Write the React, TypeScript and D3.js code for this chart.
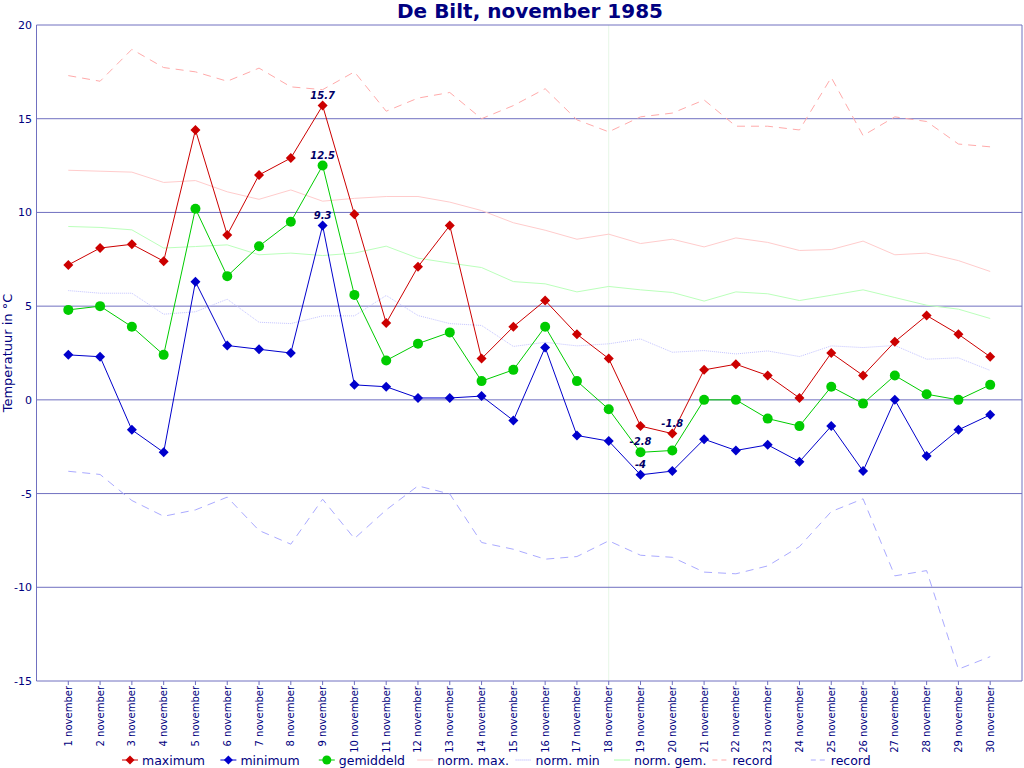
import React from "react";
import * as d3 from "d3";

const days = Array.from({ length: 30 }, (_, i) => `${i + 1} november`);
const maximum = [7.2, 8.1, 8.3, 7.4, 14.4, 8.8, 12.0, 12.9, 15.7, 9.9, 4.1, 7.1, 9.3, 2.2, 3.9, 5.3, 3.5, 2.2, -1.4, -1.8, 1.6, 1.9, 1.3, 0.1, 2.5, 1.3, 3.1, 4.5, 3.5, 2.3];
const minimum = [2.4, 2.3, -1.6, -2.8, 6.3, 2.9, 2.7, 2.5, 9.3, 0.8, 0.7, 0.1, 0.1, 0.2, -1.1, 2.8, -1.9, -2.2, -4.0, -3.8, -2.1, -2.7, -2.4, -3.3, -1.4, -3.8, 0.0, -3.0, -1.6, -0.8];
const gemiddeld = [4.8, 5.0, 3.9, 2.4, 10.2, 6.6, 8.2, 9.5, 12.5, 5.6, 2.1, 3.0, 3.6, 1.0, 1.6, 3.9, 1.0, -0.5, -2.8, -2.7, 0.0, 0.0, -1.0, -1.4, 0.7, -0.2, 1.3, 0.3, 0.0, 0.8];
const normMax = [12.25, 12.2, 12.15, 11.6, 11.7, 11.1, 10.7, 11.2, 10.6, 10.75, 10.85, 10.85, 10.55, 10.1, 9.45, 9.05, 8.57, 8.84, 8.34, 8.57, 8.16, 8.64, 8.4, 7.97, 8.02, 8.47, 7.74, 7.83, 7.43, 6.85];
const normMin = [5.83, 5.69, 5.69, 4.57, 4.7, 5.37, 4.14, 4.07, 4.48, 4.48, 5.57, 4.5, 4.07, 3.97, 2.85, 3.07, 2.88, 2.99, 3.25, 2.54, 2.63, 2.45, 2.61, 2.31, 2.88, 2.79, 2.9, 2.17, 2.24, 1.57];
const normGem = [9.25, 9.2, 9.07, 8.1, 8.18, 8.27, 7.74, 7.83, 7.7, 7.83, 8.2, 7.56, 7.3, 7.06, 6.31, 6.19, 5.76, 6.05, 5.87, 5.73, 5.27, 5.76, 5.66, 5.3, 5.58, 5.87, 5.46, 5.05, 4.84, 4.34];
const recordMax = [17.3, 17.0, 18.7, 17.73, 17.5, 17.0, 17.7, 16.7, 16.55, 17.5, 15.4, 16.1, 16.4, 15.0, 15.7, 16.6, 14.94, 14.3, 15.1, 15.3, 16.0, 14.6, 14.6, 14.4, 17.2, 14.1, 15.1, 14.85, 13.65, 13.5];
const recordMin = [-3.81, -3.98, -5.37, -6.21, -5.87, -5.19, -6.97, -7.7, -5.3, -7.4, -5.87, -4.59, -5.02, -7.61, -7.97, -8.5, -8.36, -7.52, -8.29, -8.4, -9.19, -9.28, -8.86, -7.83, -5.96, -5.28, -9.39, -9.11, -14.37, -13.7];
const yTicks = [-15, -10, -5, 0, 5, 10, 15, 20];
const todayMarker = "18 november";

// extreme value annotations: [series, dayIndex]
const annotations: { series: string; day: number }[] = [
  { series: "max", day: 8 },
  { series: "gem", day: 8 },
  { series: "min", day: 8 },
  { series: "max", day: 19 },
  { series: "gem", day: 18 },
  { series: "min", day: 18 },
];

const NAVY = "#000080";
const GRID = "#7070c0";
const FONT = "'DejaVu Sans', Verdana, sans-serif";

export default function App() {
  const W = 1024, H = 768;
  const left = 36.5, right = 1022, top = 25, bottom = 681;
  const x = d3.scalePoint<string>().domain(days).range([left, right]).padding(1);
  const y = d3.scaleLinear().domain([-15, 20]).range([bottom, top]);
  const line = d3.line<number>().x((_, i) => x(days[i])!).y((d) => y(d));

  const seriesMap: Record<string, number[]> = { max: maximum, min: minimum, gem: gemiddeld };

  const diamond = (cx: number, cy: number, r: number) =>
    `M${cx},${cy - r}L${cx + r},${cy}L${cx},${cy + r}L${cx - r},${cy}Z`;

  const bgLines = [
    { data: normMax, color: "#ffcccc", dash: undefined },
    { data: normMin, color: "#c4c4ff", dash: "1,1" },
    { data: normGem, color: "#bbffbb", dash: undefined },
    { data: recordMax, color: "#ffaaaa", dash: "8,6" },
    { data: recordMin, color: "#aaaaff", dash: "8,6" },
  ];

  const legend = [
    { label: "maximum", color: "#cc0000", marker: "diamond", dash: undefined },
    { label: "minimum", color: "#0000cc", marker: "diamond", dash: undefined },
    { label: "gemiddeld", color: "#00cc00", marker: "circle", dash: undefined },
    { label: "norm. max.", color: "#ffcccc", marker: "", dash: undefined },
    { label: "norm. min", color: "#aaaaff", marker: "", dash: "1,1" },
    { label: "norm. gem.", color: "#aaffaa", marker: "", dash: undefined },
    { label: "record", color: "#ffaaaa", marker: "", dash: "5,4" },
    { label: "record", color: "#aaaaff", marker: "", dash: "5,4" },
  ];

  return (
    <svg width={W} height={H} style={{ position: "absolute", left: 0, top: 0, background: "#fff" }} fontFamily={FONT}>
      <text x={530} y={18} textAnchor="middle" fontSize={20} fontWeight="bold" fill={NAVY}>
        De Bilt, november 1985
      </text>
      {/* vertical today marker */}
      <line x1={x(todayMarker)} x2={x(todayMarker)} y1={top} y2={bottom} stroke="#e6f6e6" strokeWidth={1} />
      {/* grid */}
      {yTicks.map((t) => (
        <g key={t}>
          <line x1={left} x2={right} y1={y(t)} y2={y(t)} stroke={GRID} strokeWidth={1} />
          <text x={32} y={y(t) + 4} textAnchor="end" fontSize={11} fill={NAVY}>{t}</text>
        </g>
      ))}
      <line x1={left} x2={left} y1={top} y2={bottom} stroke={GRID} />
      <line x1={right} x2={right} y1={top} y2={bottom} stroke={GRID} />
      <text transform={`translate(12,${(top + bottom) / 2}) rotate(-90)`} textAnchor="middle" fontSize={13} fill={NAVY}>
        Temperatuur in °C
      </text>
      {/* x ticks */}
      {days.map((d) => (
        <g key={d}>
          <line x1={x(d)} x2={x(d)} y1={bottom} y2={bottom + 4} stroke={GRID} />
          <text transform={`translate(${x(d)! + 3.5},${bottom + 5}) rotate(-90)`} textAnchor="end" fontSize={10} fill={NAVY}>
            {d}
          </text>
        </g>
      ))}
      {/* background lines */}
      {bgLines.map((b, i) => (
        <path key={i} d={line(b.data)!} fill="none" stroke={b.color} strokeWidth={1} strokeDasharray={b.dash} />
      ))}
      {/* main series */}
      <path d={line(gemiddeld)!} fill="none" stroke="#00cc00" strokeWidth={1} />
      <path d={line(maximum)!} fill="none" stroke="#cc0000" strokeWidth={1} />
      <path d={line(minimum)!} fill="none" stroke="#0000cc" strokeWidth={1} />
      {gemiddeld.map((v, i) => (
        <circle key={"g" + i} cx={x(days[i])} cy={y(v)} r={5} fill="#00cc00" />
      ))}
      {maximum.map((v, i) => (
        <path key={"mx" + i} d={diamond(x(days[i])!, y(v), 5)} fill="#cc0000" />
      ))}
      {minimum.map((v, i) => (
        <path key={"mn" + i} d={diamond(x(days[i])!, y(v), 5)} fill="#0000cc" />
      ))}
      {annotations.map((a, i) => {
        const v = seriesMap[a.series][a.day];
        return (
          <text key={"a" + i} x={x(days[a.day])} y={y(v) - 7} textAnchor="middle" fontSize={10} fontWeight="bold" fontStyle="italic" fill="#000066">
            {String(v)}
          </text>
        );
      })}
      {/* legend */}
      {legend.map((l, i) => {
        const lx = 122 + i * 98.4;
        const ly = 760;
        return (
          <g key={"l" + i}>
            <line x1={lx} x2={lx + 16} y1={ly} y2={ly} stroke={l.color} strokeWidth={1} strokeDasharray={l.dash} />
            {l.marker === "diamond" && <path d={diamond(lx + 8, ly, 4.5)} fill={l.color} />}
            {l.marker === "circle" && <circle cx={lx + 8} cy={ly} r={4.5} fill={l.color} />}
            <text x={lx + 20} y={ly + 4.5} fontSize={12.5} fill={NAVY}>{l.label}</text>
          </g>
        );
      })}
    </svg>
  );
}
